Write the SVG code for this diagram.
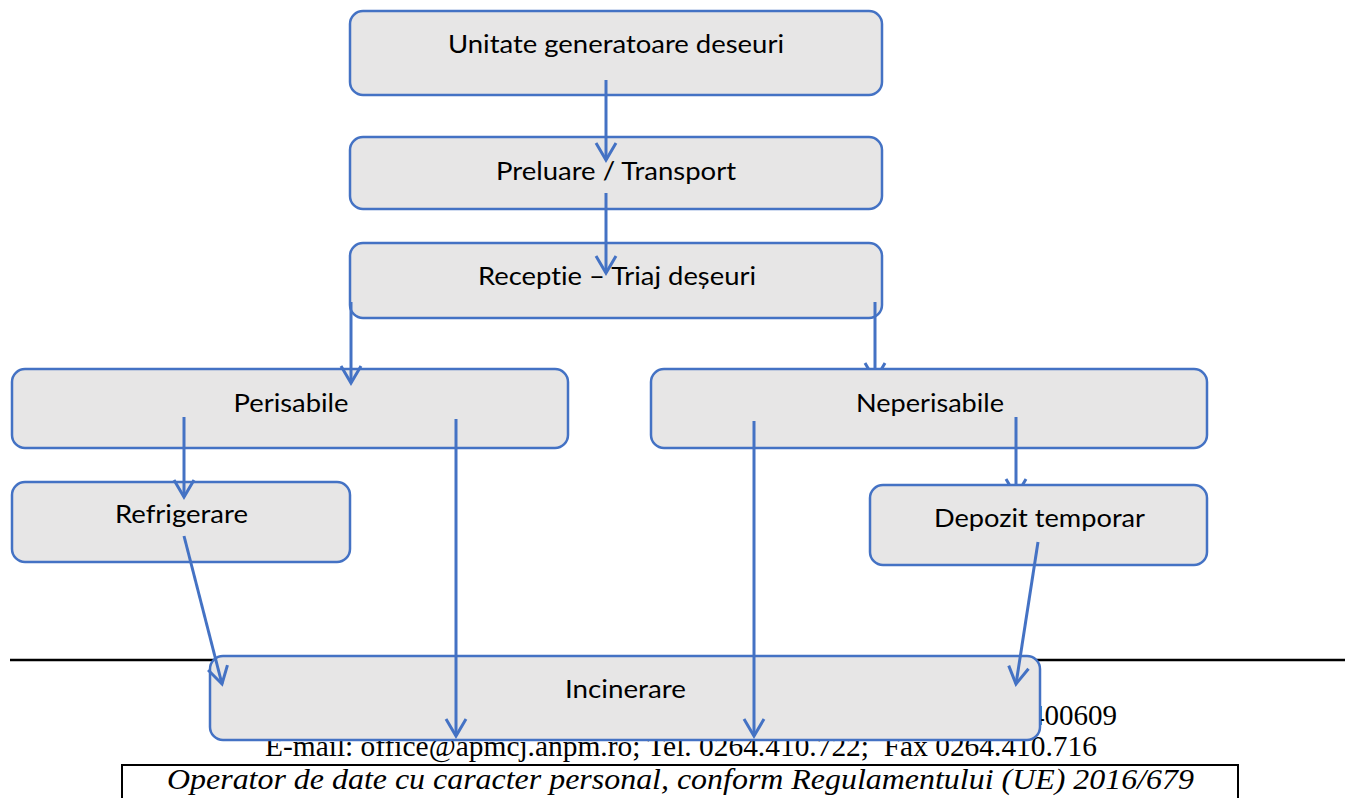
<svg xmlns="http://www.w3.org/2000/svg" width="1345" height="798" viewBox="0 0 1345 798">
<style>
.box{fill:#E7E6E6;stroke:#4472C4;stroke-width:2.5}
.lbl{font-family:Lato,"Open Sans","Liberation Sans",sans-serif;font-size:25px;fill:#000;text-anchor:middle;font-variant-ligatures:none}
.con{fill:none;stroke:#4472C4;stroke-width:3}
.ft{font-family:"Liberation Serif","Times New Roman",serif;font-size:29px;fill:#000;white-space:pre}
</style>
<defs>
<marker id="ah" markerUnits="userSpaceOnUse" viewBox="-20 -20 40 40" markerWidth="40" markerHeight="40" refX="0" refY="0" orient="auto" overflow="visible">
<path d="M-17,-10 L0,0 L-17,10" fill="none" stroke="#4472C4" stroke-width="3"/>
</marker>
</defs>
<rect width="1345" height="798" fill="#fff"/>
<g id="footer">
<line x1="10" y1="660" x2="1345" y2="660" stroke="#000" stroke-width="2.5"/>
<text class="ft" x="1117" y="725" text-anchor="end">400609</text>
<text class="ft" x="265" y="756" textLength="832" lengthAdjust="spacingAndGlyphs">E-mail: office@apmcj.anpm.ro; Tel. 0264.410.722;  Fax 0264.410.716</text>
<rect x="122" y="765" width="1116" height="40" fill="none" stroke="#000" stroke-width="2"/>
<text class="ft" x="167" y="789" font-style="italic" textLength="1027" lengthAdjust="spacingAndGlyphs">Operator de date cu caracter personal, conform Regulamentului (UE) 2016/679</text>
</g>
<g id="n1"><rect class="box" x="350" y="11" width="532" height="84" rx="13"/><text class="lbl" x="616" y="53" textLength="336" lengthAdjust="spacingAndGlyphs">Unitate generatoare deseuri</text></g>
<g id="n2"><rect class="box" x="350" y="137" width="532" height="72" rx="13"/><text class="lbl" x="616" y="180" textLength="240" lengthAdjust="spacingAndGlyphs">Preluare / Transport</text></g>
<g id="n3"><rect class="box" x="350" y="243" width="532" height="75" rx="13"/><text class="lbl" x="617" y="285" textLength="278" lengthAdjust="spacingAndGlyphs">Receptie – Triaj deșeuri</text></g>
<g id="n4"><rect class="box" x="12" y="369" width="556" height="79" rx="13"/><text class="lbl" x="291" y="412" textLength="115" lengthAdjust="spacingAndGlyphs">Perisabile</text></g>
<g id="n5"><rect class="box" x="651" y="369" width="556" height="79" rx="13"/><text class="lbl" x="930" y="412" textLength="148" lengthAdjust="spacingAndGlyphs">Neperisabile</text></g>
<g id="n6"><rect class="box" x="12" y="482" width="338" height="80" rx="13"/><text class="lbl" x="181.5" y="523" textLength="133" lengthAdjust="spacingAndGlyphs">Refrigerare</text></g>
<g id="n7"><rect class="box" x="870" y="485" width="337" height="80" rx="13"/><text class="lbl" x="1039.5" y="527" textLength="211" lengthAdjust="spacingAndGlyphs">Depozit temporar</text></g>
<g id="n8"><rect class="box" x="210" y="656" width="830" height="84" rx="13"/><text class="lbl" x="625.5" y="698" textLength="121" lengthAdjust="spacingAndGlyphs">Incinerare</text></g>
<g id="connectors">
<path class="con" d="M606,80 L606,160" marker-end="url(#ah)"/>
<path class="con" d="M606,193 L606,273" marker-end="url(#ah)"/>
<path class="con" d="M351,302 L351,383" marker-end="url(#ah)"/>
<path class="con" d="M875,302 L875,369 M865,363 L868.5,369 M885,363 L881.5,369"/>
<path class="con" d="M184,417 L184,497" marker-end="url(#ah)"/>
<path class="con" d="M1016,417 L1016,485 M1006,479 L1009.5,485 M1026,479 L1022.5,485"/>
<path class="con" d="M456,419 L456,736" marker-end="url(#ah)"/>
<path class="con" d="M754,421 L754,736" marker-end="url(#ah)"/>
<path class="con" d="M184,536 L222,684" marker-end="url(#ah)"/>
<path class="con" d="M1038,542 L1016,684" marker-end="url(#ah)"/>
</g>
</svg>
